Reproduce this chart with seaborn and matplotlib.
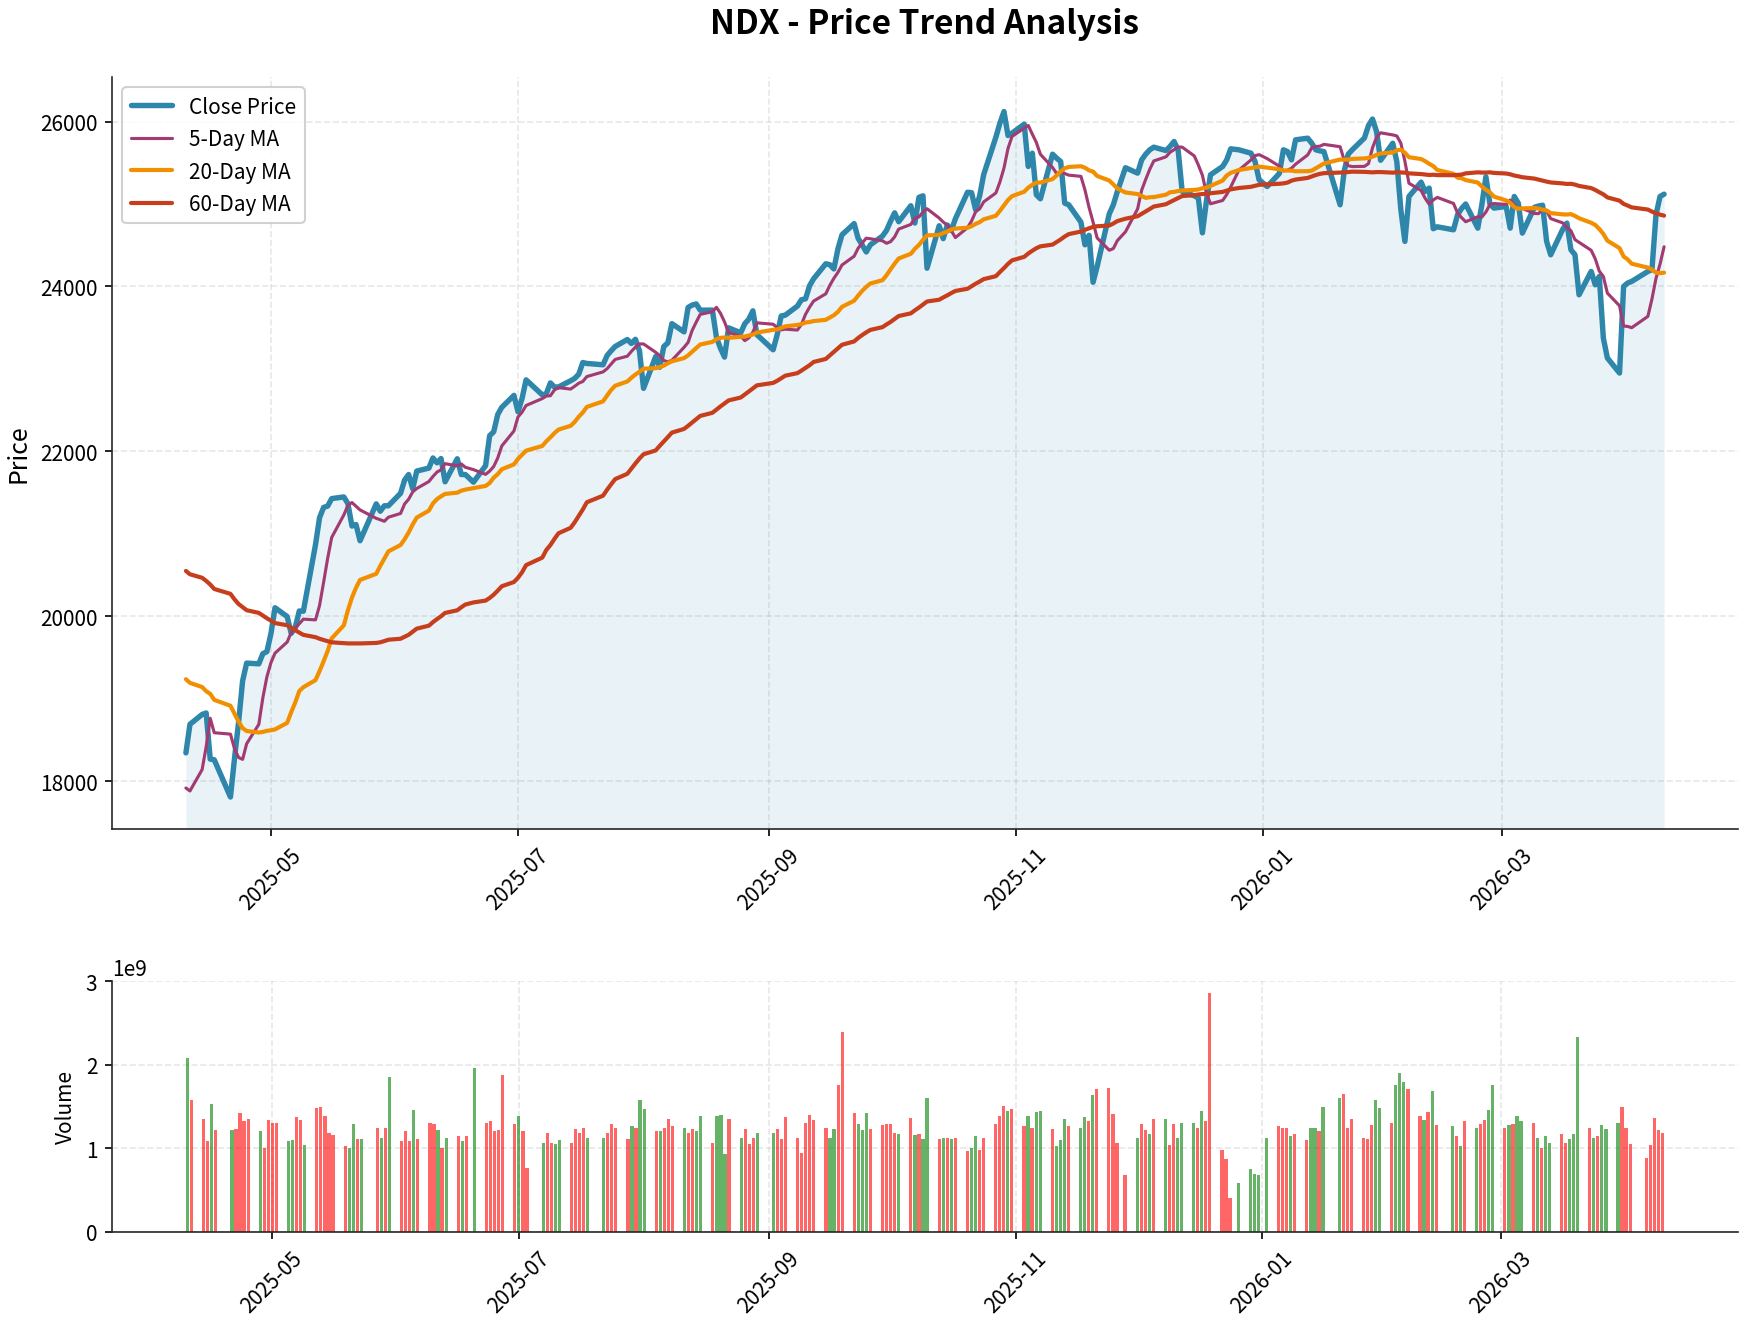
import numpy as np
import pandas as pd
import matplotlib
matplotlib.use("Agg")
import matplotlib.pyplot as plt
import matplotlib.dates as mdates
import seaborn as sns

# ---------------- data ----------------
# closes that precede the plotted window (seed the moving averages)
prior_close = [20757, 21238, 21073, 21441, 21543, 21798, 21807, 21666, 21020, 21436,
               21366, 21411, 21478, 21297, 21573, 21674, 21776, 21491, 21759, 21699,
               21725, 22031, 22115, 22148, 22175, 22068, 21614, 21353, 21102, 21131,
               20551, 20884, 20407, 20354, 20629, 20063, 20201, 19431, 19360, 19592,
               19225, 19704, 19805, 19482, 19736, 19678, 19754, 20181, 20287, 19917,
               19800, 19282, 19278, 19435, 19581, 18521, 17398, 17431, 17091, 19145]

close_apr25 = [18343, 18690, 18809, 18827, 18268, 18259, 17808, 18276, 18712, 19216, 19432, 19423, 19546, 19571]
close_may25 = [19791, 20103, 19997, 19792, 19868, 20064, 20061, 20868, 21195, 21320, 21336, 21427, 21447, 21367,
               21094, 21113, 20916, 21363, 21274, 21340, 21340]
close_jun25 = [21491, 21652, 21719, 21547, 21761, 21797, 21920, 21861, 21913, 21631, 21910, 21719, 21719, 21626,
               21827, 22190, 22237, 22447, 22534, 22679]
close_jul25 = [22480, 22641, 22867, 22685, 22700, 22830, 22780, 22781, 22856, 22885, 22935, 23077, 23066, 23050,
               23162, 23220, 23272, 23356, 23308, 23359, 23218]
close_aug25 = [22764, 23150, 23020, 23271, 23316, 23549, 23449, 23745, 23774, 23788, 23712, 23713, 23385, 23250,
               23143, 23498, 23438, 23548, 23603, 23704, 23415]
close_sep25 = [23232, 23415, 23642, 23652, 23762, 23839, 23850, 24009, 24093, 24275, 24264, 24212, 24455, 24626,
               24762, 24582, 24503, 24418, 24504, 24611, 24680]
close_oct25 = [24791, 24893, 24785, 24979, 24769, 25080, 25099, 24221, 24736, 24580, 24745, 24680, 24820, 25142,
               25137, 24930, 25100, 25358, 25810, 25980, 26121, 25830, 25860]
close_nov25 = [25968, 25455, 25616, 25111, 25063, 25604, 25556, 25515, 25010, 24990, 24780, 24505, 24620, 24050,
               24240, 24880, 24990, 25152, 25440]
close_dec25 = [25374, 25535, 25604, 25657, 25689, 25648, 25697, 25758, 25657, 25152, 25099, 25071, 24650, 25040,
               25354, 25455, 25535, 25669, 25657, 25616, 25515, 25293]
close_jan26 = [25212, 25370, 25657, 25636, 25535, 25778, 25798, 25737, 25657, 25644, 25636, 24990, 25394, 25604,
               25657, 25800, 25950, 26030, 25879, 25530]
close_feb26 = [25737, 25515, 24930, 24546, 25091, 25265, 25152, 25192, 24700, 24723, 24687, 24869, 24945, 25000,
               24707, 24990, 25330, 25000, 24950]
close_mar26 = [24970, 24707, 25091, 25010, 24647, 24960, 24975, 24985, 24546, 24384, 24695, 24768, 24444, 24384,
               23899, 24182, 24020, 24121, 23374, 23132, 22950, 24000]
close_apr26 = [24041, 24061, 24182, 24202, 24869, 25091, 25119]

# volume in billions of shares
vol_apr25 = [2.08, 1.58, 1.35, 1.085, 1.53, 1.22, 1.22, 1.23, 1.42, 1.33, 1.35, 1.21, 1.01, 1.34]
vol_may25 = [1.31, 1.30, 1.085, 1.10, 1.37, 1.34, 1.04, 1.48, 1.49, 1.39, 1.19, 1.16, 1.025, 1.00, 1.29, 1.11,
             1.11, 1.24, 1.13, 1.25, 1.85]
vol_jun25 = [1.085, 1.205, 1.085, 1.46, 1.11, 1.30, 1.29, 1.22, 1.00, 1.13, 1.145, 1.085, 1.145, 1.96, 1.30,
             1.325, 1.205, 1.22, 1.88, 1.29]
vol_jul25 = [1.385, 1.205, 0.76, 1.06, 1.18, 1.07, 1.05, 1.10, 1.06, 1.23, 1.19, 1.25, 1.13, 1.13, 1.18, 1.29,
             1.25, 1.11, 1.265, 1.25, 1.58]
vol_aug25 = [1.47, 1.205, 1.205, 1.25, 1.35, 1.265, 1.25, 1.19, 1.23, 1.205, 1.385, 1.06, 1.385, 1.40, 0.93,
             1.35, 1.13, 1.23, 1.05, 1.12, 1.18]
vol_sep25 = [1.19, 1.23, 1.11, 1.37, 1.13, 0.95, 1.31, 1.40, 1.34, 1.24, 1.12, 1.23, 1.76, 2.395, 1.42, 1.29,
             1.22, 1.42, 1.23, 1.28, 1.29]
vol_oct25 = [1.29, 1.18, 1.17, 1.36, 1.16, 1.17, 1.11, 1.60, 1.11, 1.13, 1.12, 1.11, 1.12, 0.965, 1.00, 1.145,
             0.977, 1.13, 1.29, 1.385, 1.505, 1.445, 1.47]
vol_nov25 = [1.265, 1.385, 1.25, 1.43, 1.445, 1.23, 1.025, 1.10, 1.35, 1.265, 1.24, 1.37, 1.325, 1.64, 1.71,
             1.72, 1.41, 1.07, 0.68]
vol_dec25 = [1.13, 1.29, 1.22, 1.17, 1.35, 1.35, 1.04, 1.29, 1.13, 1.30, 1.30, 1.24, 1.445, 1.325, 2.86, 0.977,
             0.87, 0.41, 0.59, 0.75, 0.69, 0.68]
vol_jan26 = [1.13, 1.265, 1.24, 1.25, 1.145, 1.17, 1.10, 1.24, 1.25, 1.205, 1.49, 1.60, 1.65, 1.25, 1.35, 1.13,
             1.11, 1.28, 1.58, 1.48]
vol_feb26 = [1.31, 1.76, 1.90, 1.79, 1.71, 1.385, 1.34, 1.43, 1.69, 1.28, 1.265, 1.145, 1.025, 1.325, 1.24,
             1.29, 1.34, 1.46, 1.76]
vol_mar26 = [1.25, 1.28, 1.29, 1.385, 1.325, 1.31, 1.12, 1.00, 1.145, 1.07, 1.17, 1.07, 1.11, 1.17, 2.335, 1.25,
             1.12, 1.145, 1.28, 1.23, 1.30, 1.49]
vol_apr26 = [1.25, 1.05, 0.89, 1.04, 1.36, 1.22, 1.18]

# bar colour per day: r = up (red), g = down (green)
dir_apr25 = "grrrgrgrrrrgrr"
dir_may25 = "rrggrrgrrrrrrggrgrgrg"
dir_jun25 = "rrrgrrrgrgrgrgrrrrrr"
dir_jul25 = "grrgrrggrrrrggrrrrgrg"
dir_aug25 = "grgrrrgrrggrgggrgrrrg"
dir_sep25 = "grrrrrrrrrggrrrgggrrr"
dir_oct25 = "rrgrgrggrgrgrrggrrrrrgr"
dir_nov25 = "rgrggrgggrggrgrrrrr"
dir_dec25 = "grrgrgrrgggrgrrrrrgggg"
dir_jan26 = "grrrgrrggrggrrrrrrgg"
dir_feb26 = "rgggrrgrgrgrgrgrrgg"
dir_mar26 = "rgrggrgrggrrgggrgrgggr"
dir_apr26 = "rrrrrrr"

market_holidays = ['2025-04-18', '2025-05-26', '2025-06-19', '2025-07-04', '2025-09-01', '2025-11-27',
                   '2025-12-25', '2026-01-01', '2026-01-19', '2026-02-16', '2026-04-03']
missing_days = ['2025-07-21']

# ---------------- assemble ----------------
close = (close_apr25 + close_may25 + close_jun25 + close_jul25 + close_aug25 + close_sep25 + close_oct25 +
         close_nov25 + close_dec25 + close_jan26 + close_feb26 + close_mar26 + close_apr26)
volume = (vol_apr25 + vol_may25 + vol_jun25 + vol_jul25 + vol_aug25 + vol_sep25 + vol_oct25 + vol_nov25 +
          vol_dec25 + vol_jan26 + vol_feb26 + vol_mar26 + vol_apr26)
direction = (dir_apr25 + dir_may25 + dir_jun25 + dir_jul25 + dir_aug25 + dir_sep25 + dir_oct25 + dir_nov25 +
             dir_dec25 + dir_jan26 + dir_feb26 + dir_mar26 + dir_apr26)

dates = pd.bdate_range('2025-04-10', '2026-04-10').difference(pd.to_datetime(market_holidays + missing_days))
assert len(dates) == len(close) == len(volume) == len(direction), (len(dates), len(close), len(volume), len(direction))

full = pd.Series(prior_close + close, dtype=float)
npre = len(prior_close)
df = pd.DataFrame({
    'date': dates,
    'close': close,
    'ma5': full.rolling(5).mean().shift(1).iloc[npre:].values,
    'ma20': full.rolling(20).mean().shift(1).iloc[npre:].values,
    'ma60': full.rolling(60).mean().shift(1).iloc[npre:].values,
    'volume': np.array(volume) * 1e9,
})
bar_colors = ['red' if c == 'r' else 'green' for c in direction]

# ---------------- style ----------------
sns.set_style("ticks")
plt.rcParams['font.family'] = ['Noto Sans CJK SC', 'DejaVu Sans']
plt.rcParams['axes.unicode_minus'] = False
for k in ('text.color', 'axes.labelcolor', 'xtick.color', 'ytick.color'):
    plt.rcParams[k] = 'black'

fig = plt.figure(figsize=(1753 / 150, 1327 / 150), dpi=150)
ax = fig.add_axes([0.06389, 0.37453, 0.92755, 0.56669])
ax2 = fig.add_axes([0.06389, 0.07084, 0.92755, 0.18915])

y_bottom, y_top = 17420, 26540

# ---------------- price panel ----------------
ax.fill_between(df['date'], df['close'], y_bottom, color='#2E86AB', alpha=0.1, linewidth=0)
sns.lineplot(data=df, x='date', y='close', ax=ax, color='#2E86AB', linewidth=2.6, label='Close Price')
sns.lineplot(data=df, x='date', y='ma5', ax=ax, color='#A23B72', linewidth=1.5, label='5-Day MA')
sns.lineplot(data=df, x='date', y='ma20', ax=ax, color='#F18F01', linewidth=2.0, label='20-Day MA')
sns.lineplot(data=df, x='date', y='ma60', ax=ax, color='#C73E1D', linewidth=2.0, label='60-Day MA')
ax.set_ylim(y_bottom, y_top)
ax.set_title('NDX - Price Trend Analysis', fontsize=16, fontweight='bold', pad=21)
ax.set_xlabel('')
ax.set_ylabel('Price', fontsize=12)
ax.legend(loc='upper left', fontsize=10, frameon=True, edgecolor='#cccccc', framealpha=0.9)

# ---------------- volume panel ----------------
ax2.bar(df['date'], df['volume'], width=0.8, color=bar_colors, alpha=0.6,
        edgecolor='none', linewidth=0)
ax2.set_ylabel('Volume', fontsize=10)
ax2.set_xlabel('')

for a in (ax, ax2):
    a.grid(True, linestyle='--', color='#b0b0b0', alpha=0.3)
    a.xaxis.set_major_locator(mdates.MonthLocator(bymonth=[1, 3, 5, 7, 9, 11]))
    a.xaxis.set_major_formatter(mdates.DateFormatter('%Y-%m'))
    a.tick_params(axis='both', labelsize=10)
    for lbl in a.get_xticklabels():
        lbl.set_rotation(45)
        lbl.set_ha('center')
    sns.despine(ax=a)

fig.savefig('out.png', dpi=150)
